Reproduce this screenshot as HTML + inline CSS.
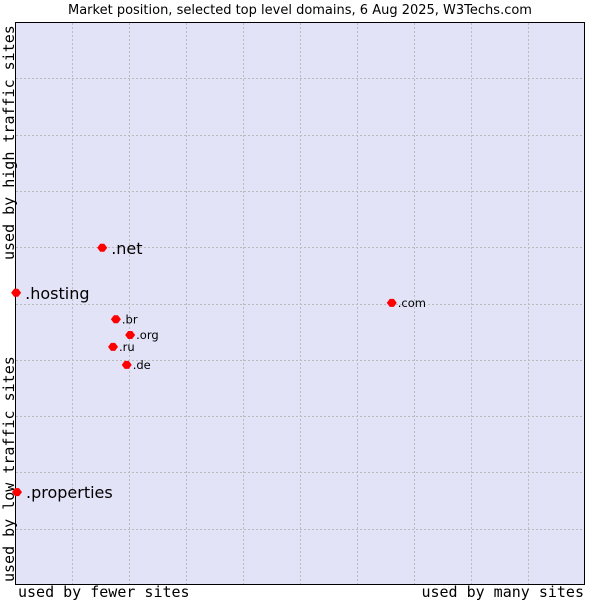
<!DOCTYPE html>
<html><head><meta charset="utf-8"><style>body{margin:0;background:#fff}svg{display:block}</style></head>
<body>
<svg id="chart" width="600" height="600" xmlns="http://www.w3.org/2000/svg">
<text x="300" y="14" text-anchor="middle" font-family="DejaVu Sans, sans-serif" font-size="13" fill="#000">Market position, selected top level domains, 6 Aug 2025, W3Techs.com</text>
<rect x="15.5" y="22.5" width="569" height="562" fill="#e3e3f8" stroke="#000" stroke-width="1"/>
<g id="grid"></g>
<g id="points"></g>
<text transform="translate(14,260) rotate(-90)" font-family="DejaVu Sans Mono, monospace" font-size="15" fill="#000">used by high traffic sites</text>
<text transform="translate(14,582) rotate(-90)" font-family="DejaVu Sans Mono, monospace" font-size="15" fill="#000">used by low traffic sites</text>
<text x="18" y="597" font-family="DejaVu Sans Mono, monospace" font-size="15" fill="#000">used by fewer sites</text>
<text x="584" y="597" text-anchor="end" font-family="DejaVu Sans Mono, monospace" font-size="15" fill="#000">used by many sites</text>
</svg>
<script>
const labels = [".net", ".hosting", ".com", ".br", ".org", ".ru", ".de", ".properties"];
const xValues = [15.3, 0.2, 66.1, 17.7, 20.2, 17.2, 19.6, 0.35];
const yValues = [59.9, 51.9, 50.1, 47.2, 44.4, 42.3, 39.1, 16.5];
const bigLabel = [true, true, false, false, false, false, false, true];
const NS = "http://www.w3.org/2000/svg";
const X0 = 15, X1 = 585, Y0 = 585, Y1 = 22;
function sx(v){ return X0 + (X1 - X0) * v / 100; }
function sy(v){ return Y0 - (Y0 - Y1) * v / 100; }
const grid = document.getElementById('grid');
for (let i = 1; i < 10; i++) {
  const l = document.createElementNS(NS, 'line');
  
  
  const x = Math.round(sx(i * 10)) + 0.5;
  l.setAttribute('x1', x); l.setAttribute('x2', x);
  l.setAttribute('y1', 23); l.setAttribute('y2', 584);
  l.setAttribute('stroke', '#bbb'); l.setAttribute('stroke-dasharray', '2,2');
  grid.appendChild(l);
  const h = document.createElementNS(NS, 'line');
  
  
  const y = Math.round(sy(i * 10)) + 0.5;
  h.setAttribute('y1', y); h.setAttribute('y2', y);
  h.setAttribute('x1', 16); h.setAttribute('x2', 584);
  h.setAttribute('stroke', '#bbb'); h.setAttribute('stroke-dasharray', '2,2');
  grid.appendChild(h);
}
const pts = document.getElementById('points');
labels.forEach((lab, i) => {
  const x = sx(xValues[i]), y = sy(yValues[i]);
  const d = document.createElementNS(NS, 'path');
  
  
  d.setAttribute('d', `M${x-5},${y} L${x-2},${y-4} L${x+2},${y-4} L${x+5},${y} L${x+2},${y+4} L${x-2},${y+4}Z`);
  d.setAttribute('fill', '#f00');
  pts.appendChild(d);
  const t = document.createElementNS(NS, 'text');
  
  
  t.setAttribute('x', x + (bigLabel[i] ? 9 : 6));
  t.setAttribute('y', y + (bigLabel[i] ? 6 : 4));
  t.setAttribute('font-family', 'DejaVu Sans, sans-serif');
  t.setAttribute('font-size', bigLabel[i] ? 16 : 11.5);
  t.textContent = lab;
  pts.appendChild(t);
});
</script>
</body></html>
